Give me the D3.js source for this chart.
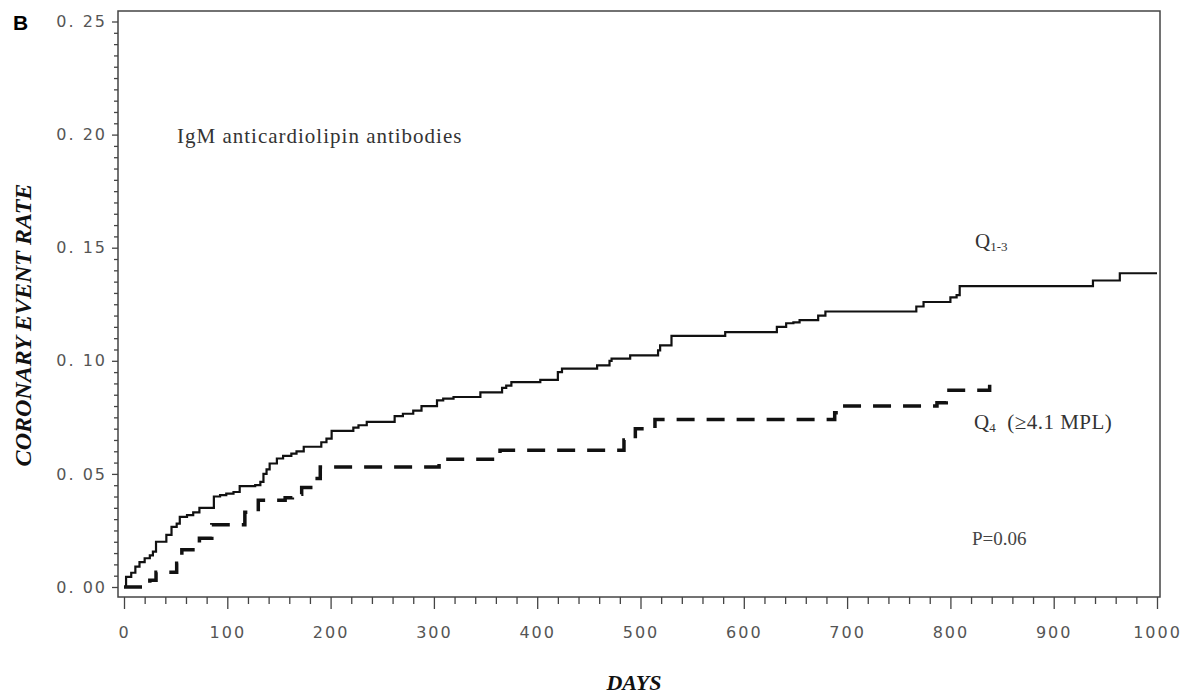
<!DOCTYPE html>
<html>
<head>
<meta charset="utf-8">
<script src="https://cdn.jsdelivr.net/npm/d3@7"></script>
<style>
  body { margin: 0; background: #fff; }
  .tick text { font-family: "DejaVu Sans", sans-serif; font-size: 16px; fill: #555; letter-spacing: 2px; }
  .serif { font-family: "Liberation Serif", "Times New Roman", serif; }
</style>
</head>
<body>
<script>
// Q1-3 (solid) step points
var q13Days = [0, 2, 7, 11, 15, 20, 25, 28, 31, 41, 46, 51, 54, 61, 67, 73, 87, 93, 99, 106, 112, 127, 132, 135, 138, 141, 148, 154, 162, 167, 174, 191, 196, 201, 222, 227, 235, 262, 270, 280, 288, 303, 309, 319, 345, 366, 370, 375, 403, 420, 424, 458, 470, 472, 490, 517, 519, 530, 582, 632, 641, 648, 654, 672, 679, 767, 774, 800, 806, 809, 938, 964, 1000];
var q13Rate = [0, 0.0045, 0.0063, 0.009, 0.011, 0.0127, 0.014, 0.0156, 0.020, 0.023, 0.0266, 0.028, 0.031, 0.0318, 0.033, 0.035, 0.040, 0.0406, 0.0413, 0.042, 0.0446, 0.045, 0.0465, 0.050, 0.052, 0.0546, 0.0568, 0.058, 0.059, 0.060, 0.062, 0.064, 0.0656, 0.069, 0.0705, 0.0715, 0.073, 0.0755, 0.0766, 0.078, 0.080, 0.0825, 0.0833, 0.084, 0.086, 0.088, 0.089, 0.0906, 0.0916, 0.095, 0.0965, 0.098, 0.100, 0.101, 0.1024, 0.1046, 0.1068, 0.111, 0.1127, 0.115, 0.1166, 0.117, 0.118, 0.120, 0.1218, 0.124, 0.126, 0.128, 0.129, 0.133, 0.1355, 0.1387, 0.1387];

// Q4 (dashed)
var q4Days = [0, 25, 31, 51, 56, 73, 85, 117, 130, 156, 163, 172, 183, 190, 305, 364, 484, 495, 514, 688, 692, 787, 796, 838];
var q4Rate = [0, 0.003, 0.0065, 0.0105, 0.0165, 0.0215, 0.0275, 0.033, 0.0384, 0.0395, 0.041, 0.044, 0.048, 0.053, 0.0565, 0.0605, 0.065, 0.070, 0.074, 0.077, 0.080, 0.0815, 0.087, 0.0945];

var xTicks = [0, 100, 200, 300, 400, 500, 600, 700, 800, 900, 1000];
var yTicks = [0, 0.05, 0.10, 0.15, 0.20, 0.25];
var yTickLabels = ["0. 00", "0. 05", "0. 10", "0. 15", "0. 20", "0. 25"];

var width = 1188, height = 696;

var x = d3.scaleLinear().domain([0, 1000]).range([124, 1157]);
var y = d3.scaleLinear().domain([0, 0.25]).range([587, 21.5]);

var svg = d3.select('body')
  .append('svg')
  .attr('width', width)
  .attr('height', height);

// frame: axes + top/right border
svg.append('rect')
  .attr('x', 118).attr('y', 11)
  .attr('width', 1042).attr('height', 586)
  .attr('fill', 'none')
  .attr('stroke', '#444')
  .attr('stroke-width', 1.5);

// x axis, major + minor ticks every 20 days
var xMinor = d3.range(0, 1001, 20).filter(function(d) { return d % 100 != 0; });

var xAxisG = svg.append('g').attr('transform', 'translate(0,597)');
xAxisG.call(d3.axisBottom(x).tickValues(xMinor).tickSize(7).tickFormat(''));
xAxisG.append('g').call(d3.axisBottom(x).tickValues(xTicks).tickSize(12).tickPadding(18).tickFormat(d3.format('d')));
xAxisG.selectAll('.domain').remove();
xAxisG.selectAll('line').attr('stroke', '#444').attr('stroke-width', 1.3);

// y axis, minor ticks every 0.005
var yMinor = d3.range(0, 51).map(function(i) { return i * 0.005; }).filter(function(d, i) { return i % 10 != 0; });

var yAxisG = svg.append('g').attr('transform', 'translate(118,0)');
yAxisG.call(d3.axisLeft(y).tickValues(yMinor).tickSize(4).tickFormat(''));
yAxisG.append('g').call(d3.axisLeft(y).tickValues(yTicks).tickSize(6).tickPadding(5)
  .tickFormat(function(d, i) { return yTickLabels[i]; }));
yAxisG.selectAll('.domain').remove();
yAxisG.selectAll('line').attr('stroke', '#444').attr('stroke-width', 1.3);

// curves
var line = d3.line()
  .x(function(d) { return x(d[0]); })
  .y(function(d) { return y(d[1]); })
  .curve(d3.curveStepAfter);

svg.append('path')
  .datum(d3.zip(q13Days, q13Rate))
  .attr('d', line)
  .attr('fill', 'none')
  .attr('stroke', '#111')
  .attr('stroke-width', 2.2);

svg.append('path')
  .datum(d3.zip(q4Days, q4Rate))
  .attr('d', line)
  .attr('fill', 'none')
  .attr('stroke', '#111')
  .attr('stroke-width', 3.5)
  .attr('stroke-dasharray', '18,12');

// labels
svg.append('text')
  .attr('x', 13).attr('y', 30)
  .attr('font-family', 'Liberation Sans, Arial, sans-serif')
  .attr('font-weight', 'bold')
  .attr('font-size', 21)
  .text('B');

svg.append('text')
  .attr('class', 'serif')
  .attr('transform', 'translate(31,325) rotate(-90)')
  .attr('text-anchor', 'middle')
  .attr('font-weight', 'bold')
  .attr('font-style', 'italic')
  .attr('font-size', 24)
  .attr('fill', '#111')
  .text('CORONARY EVENT RATE');

svg.append('text')
  .attr('class', 'serif')
  .attr('x', 634).attr('y', 690)
  .attr('text-anchor', 'middle')
  .attr('font-weight', 'bold')
  .attr('font-style', 'italic')
  .attr('font-size', 22)
  .attr('fill', '#111')
  .text('DAYS');

svg.append('text')
  .attr('class', 'serif')
  .attr('x', 177).attr('y', 143)
  .attr('font-size', 21)
  .attr('letter-spacing', 1)
  .attr('fill', '#333')
  .text('IgM anticardiolipin antibodies');

var q13 = svg.append('text')
  .attr('class', 'serif')
  .attr('x', 975).attr('y', 248)
  .attr('font-size', 21)
  .attr('fill', '#333');
q13.append('tspan').text('Q');
q13.append('tspan').attr('font-size', 13).attr('dy', 3).text('1-3');

var q4 = svg.append('text')
  .attr('class', 'serif')
  .attr('x', 974).attr('y', 429)
  .attr('font-size', 21)
  .attr('fill', '#333');
q4.append('tspan').text('Q');
q4.append('tspan').attr('font-size', 13).attr('dy', 3).text('4');
q4.append('tspan').attr('dy', -3).attr('letter-spacing', 0.5).text('\u00a0 (\u22654.1 MPL)');

svg.append('text')
  .attr('class', 'serif')
  .attr('x', 972).attr('y', 545)
  .attr('font-size', 19)
  .attr('fill', '#444')
  .text('P=0.06');
</script>
</body>
</html>
